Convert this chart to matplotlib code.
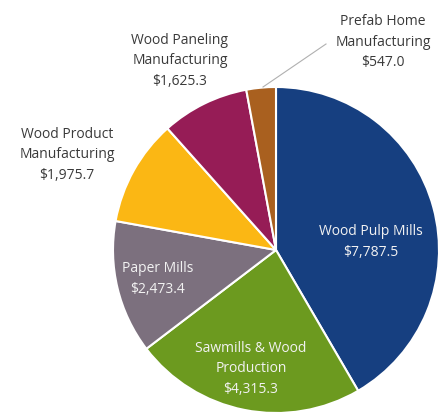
import matplotlib.pyplot as plt

# Industry revenue, $ millions
labels = ["Wood Pulp Mills", "Sawmills & Wood\nProduction", "Paper Mills",
          "Wood Product\nManufacturing", "Wood Paneling\nManufacturing",
          "Prefab Home\nManufacturing"]
values = [7787.5, 4315.3, 2473.4, 1975.7, 1625.3, 547.0]
colors = ["#163f80", "#6c9a1f", "#7c707e", "#fbb714", "#961c56", "#a9601f"]

plt.rcParams['font.family'] = ['Open Sans', 'DejaVu Sans']

W, H = 443, 415
fig = plt.figure(figsize=(W / 100, H / 100), dpi=100)
ax = fig.add_axes([0, 0, 1, 1])

cx, cy, r = 276, H - 250, 163
ax.pie(values, colors=colors, startangle=90, counterclock=False,
       center=(cx, cy), radius=r, frame=True,
       wedgeprops=dict(edgecolor='white', linewidth=1.5))
ax.set_xlim(0, W)
ax.set_ylim(0, H)
ax.set_aspect('equal')
ax.axis('off')


def txt(i, x, y, color):
    ax.text(x, H - y, labels[i] + "\n${:,.1f}".format(values[i]),
            ha='center', va='center', fontsize=10, color=color,
            linespacing=1.5)


txt(0, 371, 242, '#f2f2f2')
txt(1, 251, 369, '#f2f2f2')
txt(2, 158, 279, '#f2f2f2')
txt(3, 67, 155, '#3a3a3a')
txt(4, 180, 61, '#3a3a3a')
txt(5, 383, 42, '#3a3a3a')

# leader line for the small wedge
ax.plot([263, 326], [H - 87, H - 44], color='#b0b0b0', lw=0.8)

fig.savefig("out.png", dpi=100)
